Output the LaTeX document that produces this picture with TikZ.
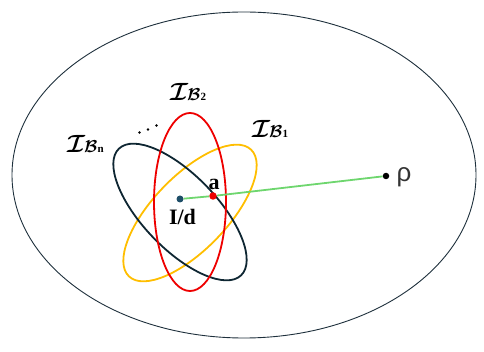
\documentclass[tikz,border=0pt]{standalone}
\usepackage{fontspec}
\newfontfamily\lserif{Liberation Serif}
\newfontfamily\lsans{Liberation Sans}
\definecolor{outerc}{RGB}{30,48,60}
\definecolor{darkc}{RGB}{14,38,50}
\definecolor{redc}{RGB}{238,0,0}
\definecolor{yelc}{RGB}{255,190,0}
\definecolor{grnc}{RGB}{110,214,110}
\definecolor{dotc}{RGB}{30,78,104}
\newcommand{\IB}[1]{{\boldmath\fontsize{30}{30}\selectfont$\mathcal{I}$}\kern-1pt{\boldmath\fontsize{18}{18}\selectfont$\mathcal{B}$}{\lserif\bfseries\fontsize{11}{11}\selectfont #1}}
\begin{document}
\begin{tikzpicture}[x=1pt,y=-1pt,
  ring/.style={line width=1.8pt},
  lbl/.style={inner sep=0pt,anchor=base west},
  pt/.style={circle,inner sep=0pt,minimum size=7pt},
  bold/.style={inner sep=0pt,font=\lserif\bfseries\fontsize{22}{22}\selectfont}]
\useasboundingbox (0,0) rectangle (484,352);
% outer ellipse
\draw[outerc,line width=0.9pt] (244,175) ellipse [x radius=232pt, y radius=163pt];
% yellow ellipse
\begin{scope}[shift={(190,213)},rotate=46]
\draw[yelc,ring] (0,0) ellipse [x radius=88pt, y radius=37pt];
\end{scope}
% dark ellipse
\begin{scope}[shift={(180,212)},rotate=-46]
\draw[darkc,ring] (0,0) ellipse [x radius=88pt, y radius=37pt];
\end{scope}
% red ellipse
\draw[redc,ring] (190,202) ellipse [x radius=36pt, y radius=89pt];
% points
\node[pt,fill=dotc] (c) at (180,199) {};
\node[pt,fill=redc,minimum size=7.5pt] (a) at (213,196) {};
\node[pt,fill=black,minimum size=6.5pt] (r) at (386,176) {};
\draw[grnc,line width=1.8pt] (c) -- (a) -- (r);
% labels
\node[bold] (la) at (214,184) {a};
\node[bold] (ld) at (182.5,217) {I/d};
\node[inner sep=0pt,text=black!80,font=\lsans\fontsize{26}{26}\selectfont] (lr) at (404,177) {ρ};
\node[lbl] (l2) at (170,101) {\IB{2}};
\node[lbl] (l1) at (252,138) {\IB{1}};
\node[lbl] (ln) at (67,153) {\IB{n}};
\foreach \x/\y in {139.5/132.5,148/129.5,156.5/125.5}
  \fill (\x,\y) circle (1.4pt);
\end{tikzpicture}
\end{document}
